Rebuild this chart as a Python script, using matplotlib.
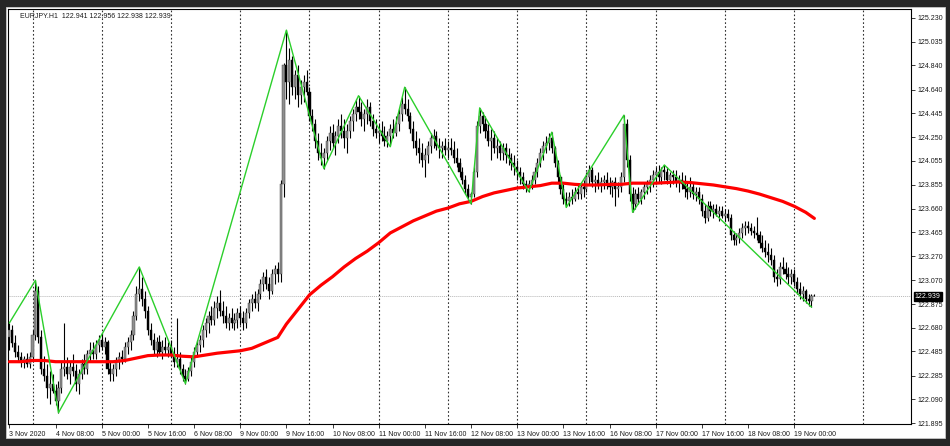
import matplotlib
matplotlib.use("Agg")
import matplotlib.pyplot as plt
import numpy as np
from matplotlib.patches import Rectangle

# EURJPY H1, 3 Nov 2020 16:00 .. 19 Nov 2020 07:00 (one value per hourly bar)
open_first = 122.60
close = [
    122.66, 122.55, 122.48, 122.44, 122.40, 122.42, 122.38, 122.44, 122.62, 122.98,
    122.60, 122.34, 122.28, 122.18, 122.22, 122.16, 122.08, 122.18, 122.34, 122.36,
    122.30, 122.36, 122.32, 122.22, 122.30, 122.38, 122.34, 122.46, 122.50, 122.46,
    122.54, 122.58, 122.52, 122.56, 122.34, 122.30, 122.34, 122.40, 122.44, 122.42,
    122.52, 122.56, 122.62, 122.78, 122.96, 123.00, 122.92, 122.82, 122.66, 122.58,
    122.50, 122.56, 122.48, 122.52, 122.50, 122.52, 122.46, 122.40, 122.42, 122.34,
    122.28, 122.26, 122.32, 122.40, 122.48, 122.54, 122.58, 122.66, 122.72, 122.78,
    122.74, 122.84, 122.88, 122.82, 122.78, 122.72, 122.76, 122.72, 122.74, 122.80,
    122.76, 122.72, 122.80, 122.88, 122.92, 122.88, 122.96, 123.04, 123.10, 123.04,
    122.98, 123.12, 123.16, 123.12, 123.86, 124.84, 124.70, 124.88, 124.66, 124.76,
    124.60, 124.66, 124.70, 124.62, 124.42, 124.36, 124.22, 124.12, 124.08, 124.12,
    124.22, 124.28, 124.20, 124.26, 124.34, 124.30, 124.24, 124.30, 124.38, 124.44,
    124.50, 124.46, 124.40, 124.44, 124.50, 124.38, 124.32, 124.28, 124.30, 124.26,
    124.22, 124.26, 124.32, 124.28, 124.36, 124.44, 124.52, 124.48, 124.42, 124.32,
    124.22, 124.16, 124.12, 124.06, 124.10, 124.18, 124.24, 124.26, 124.18, 124.16,
    124.18, 124.14, 124.16, 124.14, 124.08, 124.04, 123.96, 123.90, 123.82, 123.76,
    123.78, 123.96, 124.34, 124.42, 124.36, 124.30, 124.22, 124.24, 124.16, 124.18,
    124.12, 124.16, 124.10, 124.08, 124.04, 124.00, 123.96, 123.92, 123.86, 123.84,
    123.86, 123.90, 123.96, 124.04, 124.12, 124.18, 124.20, 124.24, 124.16, 124.04,
    123.92, 123.82, 123.74, 123.72, 123.76, 123.74, 123.80, 123.78, 123.84, 123.82,
    123.92, 123.98, 123.88, 123.90, 123.86, 123.88, 123.90, 123.86, 123.84, 123.88,
    123.82, 123.84, 123.92, 124.36, 124.06, 123.78, 123.70, 123.78, 123.74, 123.80,
    123.84, 123.86, 123.90, 123.94, 123.96, 123.92, 123.98, 123.96, 123.90, 123.94,
    123.92, 123.88, 123.90, 123.86, 123.82, 123.80, 123.84, 123.78, 123.80, 123.74,
    123.64, 123.58, 123.68, 123.64, 123.66, 123.62, 123.64, 123.60, 123.62, 123.58,
    123.44, 123.40, 123.42, 123.46, 123.50, 123.52, 123.50, 123.48, 123.46, 123.44,
    123.38, 123.34, 123.30, 123.28, 123.24, 123.10, 123.08, 123.18, 123.16, 123.12,
    123.10, 123.12, 123.06, 123.00, 122.96, 122.98, 122.92, 122.90, 122.941, 122.939,
]
high = [
    122.72, 122.70, 122.62, 122.54, 122.48, 122.45, 122.47, 122.48, 122.66, 123.07,
    123.02, 122.66, 122.45, 122.38, 122.32, 122.30, 122.22, 122.24, 122.40, 122.72,
    122.44, 122.40, 122.46, 122.38, 122.34, 122.42, 122.46, 122.50, 122.56, 122.56,
    122.58, 122.62, 122.64, 122.60, 122.58, 122.40, 122.38, 122.44, 122.48, 122.50,
    122.56, 122.60, 122.66, 122.82, 123.02, 123.18, 123.10, 122.98, 122.86, 122.72,
    122.64, 122.60, 122.62, 122.58, 122.60, 122.56, 122.58, 122.52, 122.76, 122.48,
    122.38, 122.34, 122.36, 122.44, 122.52, 122.58, 122.62, 122.70, 122.76, 122.82,
    122.86, 122.90, 122.94, 122.99, 122.90, 122.86, 122.80, 122.84, 122.80, 122.84,
    122.86, 122.82, 122.84, 122.92, 122.96, 122.98, 123.00, 123.08, 123.14, 123.16,
    123.10, 123.16, 123.20, 123.22, 123.90, 124.86, 125.13, 124.98, 124.92, 124.80,
    124.84, 124.72, 124.76, 124.80, 124.66, 124.48, 124.40, 124.28, 124.20, 124.16,
    124.26, 124.34, 124.36, 124.30, 124.40, 124.44, 124.40, 124.36, 124.42, 124.48,
    124.56, 124.59, 124.54, 124.48, 124.56, 124.54, 124.44, 124.40, 124.36, 124.38,
    124.34, 124.30, 124.36, 124.40, 124.42, 124.48, 124.58, 124.66, 124.56, 124.46,
    124.38, 124.30, 124.24, 124.20, 124.16, 124.22, 124.28, 124.32, 124.30, 124.24,
    124.22, 124.24, 124.22, 124.24, 124.22, 124.16, 124.08, 124.00, 123.94, 123.86,
    123.80, 124.00, 124.38, 124.49, 124.46, 124.42, 124.36, 124.32, 124.30, 124.24,
    124.22, 124.20, 124.20, 124.16, 124.12, 124.10, 124.06, 124.00, 123.96, 123.90,
    123.90, 123.94, 124.00, 124.08, 124.16, 124.22, 124.26, 124.28, 124.29, 124.18,
    124.06, 123.94, 123.86, 123.80, 123.80, 123.82, 123.84, 123.86, 123.88, 123.90,
    123.96, 124.02, 124.00, 123.94, 123.96, 123.92, 123.94, 123.96, 123.92, 123.90,
    123.92, 123.88, 123.96, 124.43, 124.40, 124.10, 123.84, 123.82, 123.84, 123.82,
    123.88, 123.90, 123.94, 123.98, 124.00, 124.02, 124.00, 124.02, 124.00, 123.96,
    123.98, 123.98, 123.94, 123.96, 123.94, 123.88, 123.92, 123.88, 123.84, 123.84,
    123.78, 123.70, 123.72, 123.72, 123.70, 123.70, 123.68, 123.68, 123.66, 123.66,
    123.62, 123.48, 123.46, 123.50, 123.54, 123.56, 123.56, 123.54, 123.52, 123.59,
    123.48, 123.44, 123.40, 123.38, 123.34, 123.28, 123.16, 123.22, 123.26, 123.22,
    123.18, 123.16, 123.16, 123.10, 123.06, 123.02, 123.00, 122.96, 122.96, 122.956,
]
low = [
    122.50, 122.52, 122.44, 122.40, 122.36, 122.35, 122.36, 122.35, 122.40, 122.58,
    122.55, 122.30, 122.24, 122.10, 122.05, 122.14, 122.04, 121.98, 122.14, 122.28,
    122.26, 122.22, 122.28, 122.16, 122.13, 122.26, 122.30, 122.30, 122.40, 122.42,
    122.42, 122.48, 122.50, 122.46, 122.30, 122.24, 122.24, 122.28, 122.34, 122.38,
    122.40, 122.46, 122.50, 122.58, 122.74, 122.90, 122.86, 122.76, 122.62, 122.54,
    122.46, 122.44, 122.46, 122.42, 122.46, 122.44, 122.44, 122.36, 122.36, 122.30,
    122.24, 122.22, 122.24, 122.28, 122.36, 122.44, 122.48, 122.52, 122.60, 122.64,
    122.70, 122.70, 122.76, 122.78, 122.72, 122.68, 122.66, 122.68, 122.66, 122.68,
    122.70, 122.66, 122.68, 122.76, 122.82, 122.84, 122.82, 122.92, 122.98, 123.00,
    122.92, 122.96, 123.04, 123.06, 123.06, 123.76, 124.56, 124.52, 124.60, 124.56,
    124.50, 124.52, 124.54, 124.60, 124.38, 124.30, 124.16, 124.06, 124.02, 123.99,
    124.06, 124.14, 124.16, 124.10, 124.20, 124.24, 124.16, 124.12, 124.24, 124.30,
    124.38, 124.40, 124.34, 124.30, 124.36, 124.34, 124.26, 124.24, 124.20, 124.22,
    124.18, 124.17, 124.18, 124.24, 124.26, 124.30, 124.38, 124.44, 124.38, 124.28,
    124.16, 124.10, 124.04, 124.00, 123.92, 124.04, 124.12, 124.16, 124.14, 124.08,
    124.08, 124.10, 124.08, 124.10, 124.04, 124.00, 123.92, 123.86, 123.78, 123.72,
    123.70, 123.76, 123.92, 124.28, 124.30, 124.24, 124.18, 124.06, 124.12, 124.08,
    124.06, 124.06, 124.04, 124.02, 123.98, 123.94, 123.90, 123.86, 123.82, 123.80,
    123.80, 123.82, 123.86, 123.92, 124.00, 124.06, 124.12, 124.14, 124.12, 124.00,
    123.88, 123.78, 123.70, 123.67, 123.68, 123.70, 123.72, 123.74, 123.74, 123.76,
    123.80, 123.86, 123.84, 123.80, 123.82, 123.80, 123.82, 123.82, 123.78, 123.76,
    123.68, 123.76, 123.80, 123.88, 124.00, 123.72, 123.63, 123.66, 123.70, 123.70,
    123.74, 123.78, 123.80, 123.84, 123.86, 123.88, 123.86, 123.90, 123.86, 123.84,
    123.86, 123.84, 123.80, 123.82, 123.76, 123.74, 123.76, 123.74, 123.72, 123.70,
    123.60, 123.54, 123.56, 123.60, 123.58, 123.60, 123.56, 123.58, 123.56, 123.56,
    123.40, 123.36, 123.36, 123.38, 123.42, 123.44, 123.46, 123.44, 123.42, 123.40,
    123.34, 123.30, 123.26, 123.22, 123.20, 123.06, 123.02, 123.04, 123.12, 123.08,
    123.04, 123.04, 123.02, 122.96, 122.92, 122.90, 122.88, 122.86, 122.85, 122.938,
]

# moving average (red), sampled at bar numbers
ma_bar = [0, 4, 8, 12, 16, 20, 24, 28, 32, 36, 40, 44, 48, 52, 56, 60, 64, 68, 72, 76,
          80, 84, 88, 93, 96, 100, 104, 108, 112, 116, 120, 124, 128, 132, 136, 140,
          144, 148, 152, 156, 160, 164, 168, 172, 176, 180, 184, 188, 192, 196, 200,
          204, 208, 212, 216, 220, 224, 228, 232, 236, 240, 244, 248, 252, 256, 260,
          264, 268, 272, 276, 279]
ma_val = [122.40, 122.40, 122.41, 122.41, 122.40, 122.40, 122.40, 122.40, 122.40, 122.40,
          122.41, 122.43, 122.45, 122.455, 122.455, 122.445, 122.44, 122.455, 122.47, 122.48,
          122.49, 122.51, 122.55, 122.60, 122.71, 122.83, 122.95, 123.03, 123.10, 123.18,
          123.25, 123.31, 123.38, 123.46, 123.51, 123.56, 123.60, 123.64, 123.665, 123.70,
          123.72, 123.76, 123.79, 123.81, 123.83, 123.84, 123.85, 123.87, 123.87, 123.86,
          123.855, 123.855, 123.86, 123.86, 123.87, 123.87, 123.87, 123.875, 123.88, 123.875,
          123.865, 123.855, 123.84, 123.825, 123.805, 123.78, 123.75, 123.72, 123.68, 123.63,
          123.58]

# zigzag pivots (green)
zz_bar = [0, 9, 17, 45, 61, 96, 109, 121, 132, 137, 160, 163, 180, 188, 193, 213, 216, 227, 278]
zz_price = [122.72, 123.07, 121.98, 123.18, 122.22, 125.13, 123.99, 124.59, 124.17, 124.66,
            123.70, 124.49, 123.80, 124.29, 123.67, 124.43, 123.63, 124.02, 122.85]

price_ticks = [125.230, 125.035, 124.840, 124.640, 124.445, 124.250, 124.055, 123.855, 123.660,
               123.465, 123.270, 123.070, 122.875, 122.680, 122.485, 122.285, 122.090, 121.895]
time_labels = ["3 Nov 2020", "4 Nov 08:00", "5 Nov 00:00", "5 Nov 16:00", "6 Nov 08:00",
               "9 Nov 00:00", "9 Nov 16:00", "10 Nov 08:00", "11 Nov 00:00", "11 Nov 16:00",
               "12 Nov 08:00", "13 Nov 00:00", "13 Nov 16:00", "16 Nov 08:00", "17 Nov 00:00",
               "17 Nov 16:00", "18 Nov 08:00", "19 Nov 00:00"]
title = "EURJPY.H1  122.941 122.956 122.938 122.939"
last_price = 122.939

plt.rcParams['font.family'] = ['Liberation Sans', 'DejaVu Sans']

c = np.array(close)
h = np.array(high)
l = np.array(low)
o = np.r_[open_first, c[:-1]]
o[-1] = 122.941
x = np.arange(len(c))

fig = plt.figure(figsize=(9.5, 4.46), dpi=100)
fig.patch.set_facecolor('#262626')
fig.patches.append(Rectangle((6 / 950, 8 / 446), 939 / 950, 431 / 446, transform=fig.transFigure,
                             facecolor='white', edgecolor='#c8c8c8', linewidth=0.6, zorder=-10))
ax = fig.add_axes([8 / 950, 22 / 446, 903 / 950, 415 / 446])
ax.set_zorder(5)
ax.set_facecolor('white')

# day separators
for b in range(8, 313, 24):
    ax.axvline(b, color='#303030', lw=0.8, ls=(0, (1.5, 2)), zorder=1)
ax.axhline(last_price, color='#b8b8b8', lw=0.7, ls=(0, (1, 1)), zorder=1)

# candles
lo_b = np.minimum(o, c)
hi_b = np.maximum(o, c)
body = np.maximum(hi_b - lo_b, 0.006)
up = c >= o
ax.vlines(x, np.minimum(l, lo_b), np.maximum(h, hi_b), color='black', lw=0.8, zorder=2)
ax.bar(x[up], body[up], bottom=lo_b[up], width=0.72, color='#8f8f8f',
       edgecolor='#3a3a3a', linewidth=0.3, zorder=3)
ax.bar(x[~up], body[~up], bottom=lo_b[~up], width=0.72, color='black',
       edgecolor='black', linewidth=0.3, zorder=3)

ax.plot(ma_bar, ma_val, color='#ff0000', lw=2.3, zorder=4, solid_capstyle='round')
ax.plot(zz_bar, zz_price, color='#2bcf2b', lw=1.0, zorder=5)

ax.set_xlim(-0.5, 312.5)
ax.set_ylim(121.887, 125.304)

ax.yaxis.tick_right()
ax.set_yticks(price_ticks)
ax.set_yticklabels(['%.3f' % v for v in price_ticks])
ax.set_xticks(list(range(0, 273, 16)))
ax.set_xticklabels(time_labels, ha='left')
ax.tick_params(axis='both', length=3, width=0.6, pad=2, labelsize=5, colors='#1a1a1a')
for s in ax.spines.values():
    s.set_color('black')
    s.set_linewidth(0.8)

ax.text(1.004, last_price, '%.3f' % last_price, transform=ax.get_yaxis_transform(),
        ha='left', va='center', color='white', fontsize=5,
        bbox=dict(boxstyle='square,pad=0.15', fc='black', ec='black'))
ax.text(0.013, 0.99, title, transform=ax.transAxes, ha='left', va='top',
        fontsize=5, color='#1a1a1a')

fig.savefig('out.png', dpi=100, facecolor=fig.get_facecolor())
